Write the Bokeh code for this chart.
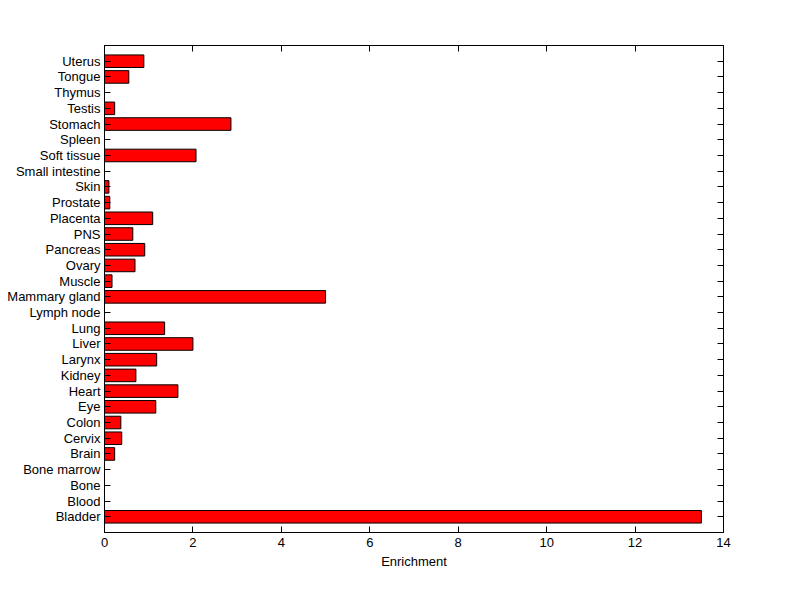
from bokeh.plotting import figure
from bokeh.models import Range1d, LinearAxis, FixedTicker
from bokeh.embed import file_html
from bokeh.resources import INLINE

tissues = ["Bladder", "Blood", "Bone", "Bone marrow", "Brain", "Cervix", "Colon", "Eye",
           "Heart", "Kidney", "Larynx", "Liver", "Lung", "Lymph node", "Mammary gland",
           "Muscle", "Ovary", "Pancreas", "PNS", "Placenta", "Prostate", "Skin",
           "Small intestine", "Soft tissue", "Spleen", "Stomach", "Testis", "Thymus",
           "Tongue", "Uterus"]
enrichment = [13.5, 0, 0, 0, 0.23, 0.39, 0.37, 1.16,
              1.66, 0.71, 1.18, 2.0, 1.36, 0, 5.0,
              0.17, 0.69, 0.91, 0.64, 1.09, 0.12, 0.10,
              0, 2.07, 0, 2.86, 0.23, 0,
              0.55, 0.89]
x_ticks = [0, 2, 4, 6, 8, 10, 12, 14]

pos = list(range(len(tissues)))
FONT = "Liberation Sans"

p = figure(frame_width=619, frame_height=487, width=800, height=599,
           x_range=Range1d(0, 14), y_range=Range1d(-1, len(tissues)),
           output_backend="svg", toolbar_location=None,
           min_border_left=104, min_border_right=77, min_border_top=45, min_border_bottom=67)
p.hbar(y=pos, left=0, right=enrichment, height=0.8, fill_color="#ff0000",
       line_color="black", line_width=1)

p.xgrid.visible = False
p.ygrid.visible = False
p.outline_line_color = "black"
p.outline_line_alpha = 1
p.background_fill_color = "white"
p.border_fill_color = "white"

xa = p.xaxis[0]
xa.ticker = FixedTicker(ticks=x_ticks)
xa.axis_label = "Enrichment"
xa.axis_label_text_font = FONT
xa.axis_label_text_font_style = "normal"
xa.axis_label_text_font_size = "13px"
xa.axis_label_text_color = "black"
xa.axis_label_standoff = 4
xa.major_label_text_font = FONT
xa.major_label_text_font_size = "13px"
xa.major_label_text_color = "black"
xa.major_label_standoff = 5
xa.major_tick_in = 6
xa.major_tick_out = 0
xa.minor_tick_line_color = None
xa.axis_line_color = "black"
xa.major_tick_line_color = "black"

ya = p.yaxis[0]
ya.ticker = FixedTicker(ticks=pos)
ya.major_label_overrides = {i: t for i, t in enumerate(tissues)}
ya.major_label_text_font = FONT
ya.major_label_text_font_size = "13px"
ya.major_label_text_color = "black"
ya.major_label_standoff = 4
ya.major_tick_in = 6
ya.major_tick_out = 0
ya.minor_tick_line_color = None
ya.axis_line_color = "black"
ya.major_tick_line_color = "black"

top = LinearAxis(ticker=FixedTicker(ticks=x_ticks), major_tick_in=6, major_tick_out=0,
                 minor_tick_line_color=None,
                 major_label_overrides={t: "" for t in x_ticks},
                 axis_line_color="black", major_tick_line_color="black")
right = LinearAxis(ticker=FixedTicker(ticks=pos), major_tick_in=6, major_tick_out=0,
                   minor_tick_line_color=None,
                   major_label_overrides={i: "" for i in pos},
                   axis_line_color="black", major_tick_line_color="black")
p.add_layout(top, "above")
p.add_layout(right, "right")

open("out.html", "w").write(file_html(p, INLINE))
